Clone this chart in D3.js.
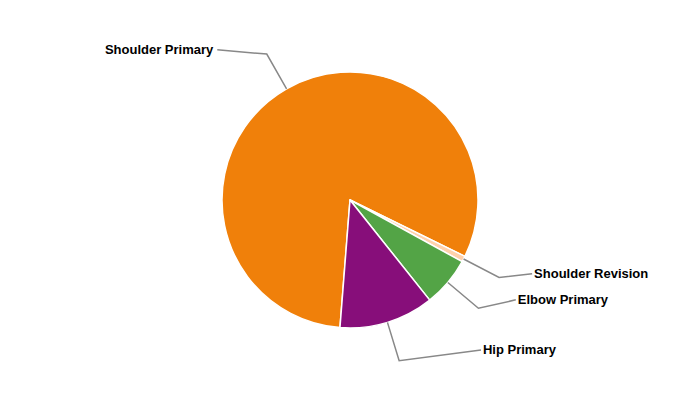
<!DOCTYPE html>
<html><head><meta charset="utf-8">
<script src="https://cdn.jsdelivr.net/npm/d3@7"></script>
<style>body{margin:0;background:#fff}svg{display:block}</style>
</head><body>
<svg id="c" width="700" height="400"></svg>
<script>
const categories = ["Shoulder Primary", "Shoulder Revision", "Elbow Primary", "Hip Primary"];
const values = [81.0, 0.75, 6.3, 11.95];
const colors = ["#f0800a", "#ffd1ab", "#53a446", "#870e7a"];
const labelNudge = {"Shoulder Primary": [10, -13], "Shoulder Revision": [-2, 1], "Elbow Primary": [-4, -2], "Hip Primary": [3, -1]};

const svg = d3.select("#c");
const cx = 350, cy = 200, r = 128;
const data = categories.map((c, i) => ({name: c, value: values[i], color: colors[i]}));
const pie = d3.pie().value(d => d.value).sort(null)
  .startAngle(184.5 * Math.PI / 180).endAngle((184.5 + 360) * Math.PI / 180);
const arcs = pie(data);
const arc = d3.arc().innerRadius(0).outerRadius(r);
const g = svg.append("g").attr("transform", `translate(${cx},${cy})`);
g.selectAll("path.s").data(arcs).join("path").attr("class", "s")
  .attr("d", arc).attr("fill", d => d.data.color)
  .attr("stroke", "#fff").attr("stroke-width", 1.5).attr("stroke-linejoin", "round");

const pt = (a, rad) => [Math.sin(a) * rad, -Math.cos(a) * rad];
const Rlab = 198;
arcs.forEach(d => {
  const a = (d.startAngle + d.endAngle) / 2;
  const e = pt(a, r), b = pt(a, r + 40);
  const right = Math.sin(a) > 0;
  const nd = labelNudge[d.data.name] || [0, 0];
  const ly0 = pt(a, r + 30)[1];
  const ly = ly0 + nd[1];
  const lx = (right ? 1 : -1) * Math.sqrt(Math.max(0, Rlab * Rlab - ly0 * ly0)) + nd[0];
  g.append("path").attr("d", `M${e[0]},${e[1]}L${b[0]},${b[1]}L${lx},${ly}`)
    .attr("fill", "none").attr("stroke", "#888").attr("stroke-width", 1.5);
  g.append("text").attr("x", lx + (right ? 2 : -4)).attr("y", ly + 4)
    .attr("text-anchor", right ? "start" : "end")
    .attr("font-family", "Liberation Sans, Arial, sans-serif")
    .attr("font-weight", "bold").attr("font-size", 13).attr("fill", "#000")
    .text(d.data.name);
});
</script>
</body></html>
